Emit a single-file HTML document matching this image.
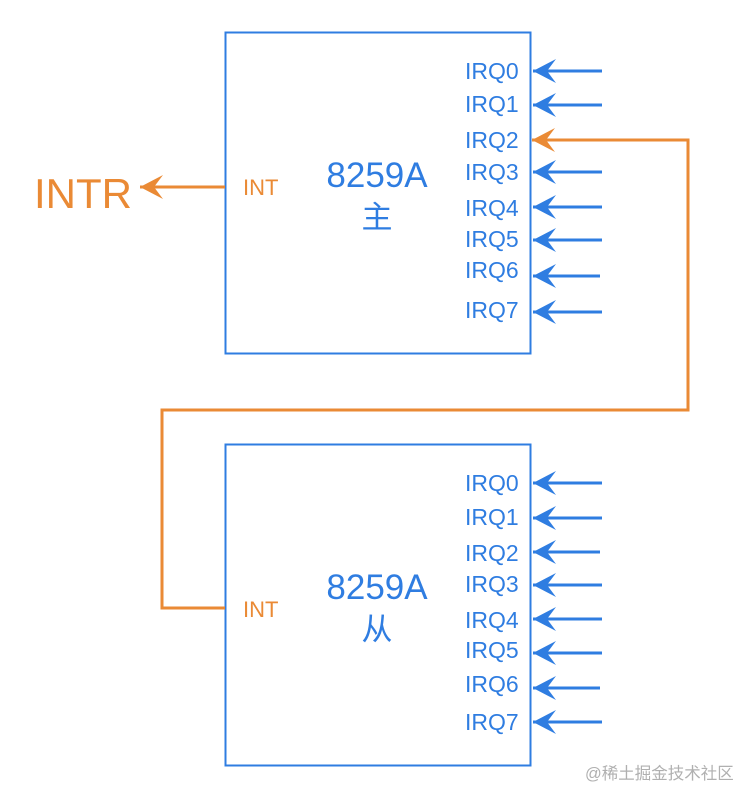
<!DOCTYPE html>
<html><head><meta charset="utf-8"><style>html,body{margin:0;padding:0;background:#fff;}svg{display:block}</style></head>
<body>
<svg width="746" height="804" xmlns="http://www.w3.org/2000/svg" font-family="Liberation Sans, Noto Sans CJK SC, sans-serif">
<defs>
<marker id="b" markerWidth="24" markerHeight="26" refX="23" refY="13" orient="auto" markerUnits="userSpaceOnUse"><path d="M23,13 L0,1 L9,13 L0,25 Z" fill="#2f7de1"/></marker>
<marker id="o" markerWidth="24" markerHeight="26" refX="23" refY="13" orient="auto" markerUnits="userSpaceOnUse"><path d="M23,13 L0,1 L9,13 L0,25 Z" fill="#ea8a35"/></marker>
</defs>
<rect x="225.5" y="32.5" width="305" height="321" fill="none" stroke="#2f7de1" stroke-width="2"/>
<rect x="225.5" y="444.5" width="305" height="321" fill="none" stroke="#2f7de1" stroke-width="2"/>
<g stroke="#2f7de1" stroke-width="3" marker-end="url(#b)">
<line x1="602" y1="71" x2="533" y2="71"/><line x1="602" y1="105" x2="533" y2="105"/>
<line x1="602" y1="172" x2="533" y2="172"/><line x1="602" y1="207" x2="533" y2="207"/>
<line x1="602" y1="240" x2="533" y2="240"/><line x1="600" y1="276" x2="533" y2="276"/>
<line x1="602" y1="312" x2="533" y2="312"/>
<line x1="602" y1="483" x2="533" y2="483"/><line x1="602" y1="518" x2="533" y2="518"/>
<line x1="600" y1="552" x2="533" y2="552"/><line x1="602" y1="585" x2="533" y2="585"/>
<line x1="602" y1="619" x2="533" y2="619"/><line x1="602" y1="653" x2="533" y2="653"/>
<line x1="600" y1="688" x2="533" y2="688"/><line x1="602" y1="722" x2="533" y2="722"/>
</g>
<g fill="none" stroke="#ea8a35" stroke-width="3">
<polyline points="225,608 162,608 162,410 688,410 688,140 532,140" marker-end="url(#o)"/>
<line x1="225" y1="187" x2="140" y2="187" marker-end="url(#o)"/>
</g>
<g fill="#2f7de1" font-size="23">
<text x="465" y="79">IRQ0</text><text x="465" y="112">IRQ1</text><text x="465" y="148">IRQ2</text>
<text x="465" y="180">IRQ3</text><text x="465" y="216">IRQ4</text><text x="465" y="247">IRQ5</text>
<text x="465" y="278">IRQ6</text><text x="465" y="318">IRQ7</text>
<text x="465" y="491">IRQ0</text><text x="465" y="525">IRQ1</text><text x="465" y="561">IRQ2</text>
<text x="465" y="592">IRQ3</text><text x="465" y="628">IRQ4</text><text x="465" y="658">IRQ5</text>
<text x="465" y="692">IRQ6</text><text x="465" y="730">IRQ7</text>
</g>
<g fill="#2f7de1" text-anchor="middle">
<text x="377" y="187" font-size="35">8259A</text>
<text x="377" y="228" font-size="31">主</text>
<text x="377" y="599" font-size="35">8259A</text>
<text x="377" y="640" font-size="31">从</text>
</g>
<g fill="#ea8a35">
<text x="243" y="195" font-size="22">INT</text>
<text x="243" y="617" font-size="22">INT</text>
<text x="34" y="208" font-size="42">INTR</text>
</g>
<text x="585" y="779" font-size="16.5" fill="#b0b0b0">@稀土掘金技术社区</text>
</svg>
</body></html>
